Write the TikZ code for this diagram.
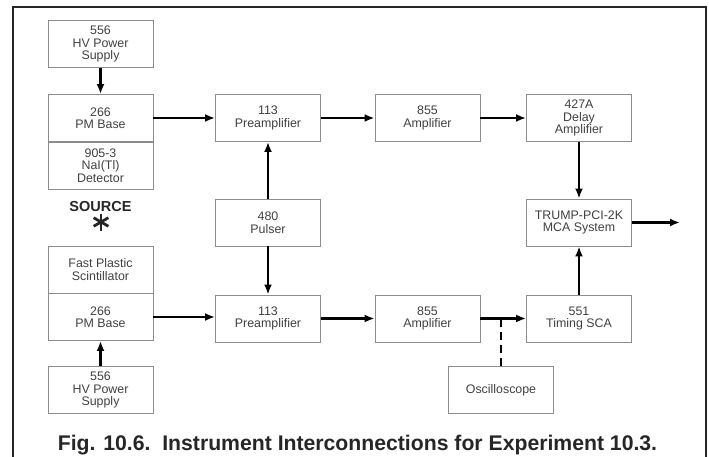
\documentclass[tikz,border=0pt]{standalone}
\usepackage{fontspec}
\setmainfont{Liberation Sans}
\usetikzlibrary{arrows.meta, calc}

\tikzset{
  unit/.style={draw=black!45, line width=0.9pt, minimum width=105pt, minimum height=47pt,
    inner sep=1pt, align=center, text=black!75, font=\fontsize{12.4}{12.5}\selectfont},
  sig/.style={line width=2.3pt, -{Latex[length=10pt,width=8pt]}},
}

\begin{document}
\begin{tikzpicture}[x=1pt,y=-1pt]
        \useasboundingbox (0,0) rectangle (709,457);
        % frame
        \draw[line width=2.6pt, black!85] (13,460)--(13,7)--(706,7)--(706,460);

        % NaI side
        \node[unit] (hvtop) at (100.5,44) {556\\HV Power\\Supply};
        \node[unit] (pmtop) at (100.5,118) {266\\PM Base};
        \node[unit] (nai) at (100.5,165.5) {905-3\\NaI(Tl)\\Detector};

        % source
        \node[font=\bfseries\fontsize{14.5}{16}\selectfont, text=black!85] (src) at (100.5,207) {SOURCE};
        \coordinate (star) at (101,222);
        \foreach \a in {90,30,150}
            \draw[line width=2.8pt, black!85] ($(star)+(\a:-8.5)$) -- ($(star)+(\a:8.5)$);

        % plastic side
        \node[unit] (plastic) at (100.5,269.5) {Fast Plastic\\Scintillator};
        \node[unit] (pmbot) at (100.5,317) {266\\PM Base};
        \node[unit] (hvbot) at (100.5,390) {556\\HV Power\\Supply};

        \node[unit] (preamptop) at (268,118) {113\\Preamplifier};
        \node[unit] (pulser) at (268,222.5) {480\\Pulser};
        \node[unit] (preampbot) at (268,318.5) {113\\Preamplifier};

        \node[unit] (amptop) at (427.5,118) {855\\Amplifier};
        \node[unit] (ampbot) at (427.5,318.5) {855\\Amplifier};

        \node[unit] (delay) at (579,118) {427A\\Delay\\Amplifier};
        \node[unit] (mca) at (579,222.5) {TRUMP-PCI-2K\\MCA System};
        \node[unit] (sca) at (579,318.5) {551\\Timing SCA};
        \node[unit] (osc) at (501,390) {Oscilloscope};
        \coordinate (out) at (680,222.5);

        \draw[sig] (hvtop)--(pmtop);
        \draw[sig] (pmtop)--(preamptop);
        \draw[sig] (pulser)--(preamptop);
        \draw[sig] (pulser)--(preampbot);
        \draw[sig] (preamptop)--(amptop);
        \draw[sig] (amptop)--(delay);
        \draw[sig] (delay)--(mca);
        \draw[sig] (sca)--(mca);
        \draw[sig] (mca)--(out);
        \draw[sig] (hvbot)--(pmbot);
        \draw[sig] (pmbot.east)--(preampbot.west |- pmbot.east);
        \draw[sig] (preampbot)--(ampbot);
        \draw[sig] (ampbot)--(sca);
        \draw[line width=2.6pt, dash pattern=on 8pt off 5pt] (osc.north)--(osc.north |- ampbot.east);

        % caption
        \node[font=\bfseries\fontsize{21.2}{22}\selectfont, text=black!85] (cap) at (357.5,445)
            {Fig. 10.6.\ \ Instrument Interconnections for Experiment 10.3.};
    \end{tikzpicture}
\end{document}
